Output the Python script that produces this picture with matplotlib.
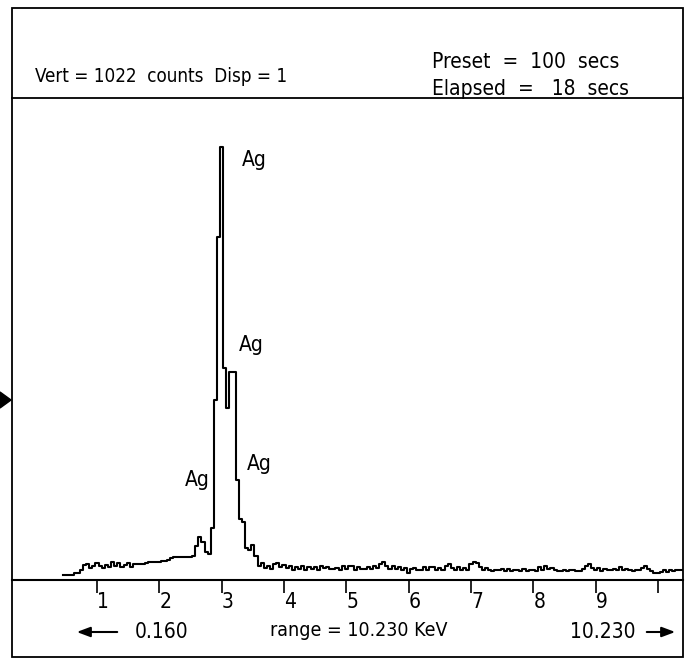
import numpy as np
import matplotlib
matplotlib.use("Agg")
import matplotlib.pyplot as plt
from matplotlib.patches import Rectangle, Polygon

plt.rcParams['font.family'] = ['DejaVu Sans']
plt.rcParams['font.stretch'] = 'condensed'

# spectrum: channel centres in keV (0.05 keV per channel) and counts
e_start = 0.45
e_step = 0.05
counts = [
    11, 11, 11, 11, 15, 15, 21, 32, 34, 26, 30, 36, 30, 26, 32, 28, 38, 30, 36, 28,
    32, 36, 28, 34, 34, 34, 34, 36, 38, 38, 38, 38, 40, 40, 43, 47, 49, 49, 49, 49,
    49, 49, 51, 72, 92, 81, 60, 55, 111, 383, 731, 922, 452, 366, 443, 443, 213, 130, 124, 68,
    64, 75, 51, 30, 36, 26, 30, 23, 34, 36, 28, 32, 26, 30, 21, 28, 23, 30, 21, 28,
    23, 28, 21, 30, 26, 28, 23, 23, 26, 21, 30, 23, 30, 30, 21, 28, 23, 23, 28, 23,
    30, 26, 34, 38, 30, 23, 30, 23, 28, 21, 26, 15, 23, 26, 21, 21, 28, 21, 28, 28,
    21, 26, 21, 30, 34, 26, 21, 28, 21, 26, 21, 34, 38, 36, 28, 21, 26, 21, 19, 21,
    21, 23, 19, 23, 19, 21, 21, 19, 23, 19, 21, 21, 19, 28, 21, 30, 23, 26, 21, 19,
    19, 21, 19, 21, 21, 19, 19, 23, 30, 34, 26, 21, 26, 19, 23, 21, 21, 23, 21, 28,
    21, 23, 21, 19, 21, 21, 26, 30, 23, 19, 15, 15, 17, 21, 17, 21, 19, 21, 21, 21,
]
energy = e_start + e_step * np.arange(len(counts))

tick_keV = [1, 2, 3, 4, 5, 6, 7, 8, 9, 10]
tick_labels = ['1', '2', '3', '4', '5', '6', '7', '8', '9', '']

# peak labels (keV, counts)
peak_names = ['Ag', 'Ag', 'Ag', 'Ag']
peak_x = [3.32, 3.27, 3.41, 2.41]
peak_y = [895, 500, 247, 213]

vert_counts = 1022
W, H = 691, 664
fig = plt.figure(figsize=(W / 100, H / 100), dpi=100, facecolor='white')

# overlay in pixel units for the frame and the readout text
fr = fig.add_axes([0, 0, 1, 1])
fr.set_xlim(0, W)
fr.set_ylim(H, 0)
fr.axis('off')
fr.add_patch(Rectangle((12, 8), 671, 649, fill=False, lw=1.3, ec='black'))
fr.plot([12, 683], [98, 98], color='black', lw=1.3)
fr.add_patch(Polygon([[0, 392], [11, 400], [0, 408]], closed=True, color='black'))

fs = 14
fr.text(35, 76, 'Vert = %d  counts  Disp = 1' % vert_counts, fontsize=13.5, va='center')
fr.text(432, 62, 'Preset  =  100  secs', fontsize=15, va='center')
fr.text(432, 89, 'Elapsed  =   18  secs', fontsize=15, va='center')
fr.text(135, 632, '0.160', fontsize=15, va='center')
fr.text(270, 630, 'range = 10.230 KeV', fontsize=fs, va='center')
fr.text(570, 632, '10.230', fontsize=15, va='center')
fr.annotate('', xy=(74, 632), xytext=(120, 632),
            arrowprops=dict(arrowstyle='-|>,head_length=0.8,head_width=0.3', lw=1.5, color='black'))
fr.annotate('', xy=(678, 632), xytext=(644, 632),
            arrowprops=dict(arrowstyle='-|>,head_length=0.8,head_width=0.3', lw=1.5, color='black'))

# spectrum axes
x0_px, px_per_keV = 34.7, 62.33
ax = fig.add_axes([12 / W, (H - 580) / H, 671 / W, (580 - 98) / H])
ax.patch.set_alpha(0)
ax.set_xlim((12 - x0_px) / px_per_keV, (683 - x0_px) / px_per_keV)
ax.set_ylim(0, 482 * 2.13)
ax.step(energy, counts, where='mid', color='black', lw=1.5)

for name, x, y in zip(peak_names, peak_x, peak_y):
    ax.text(x, y, name, fontsize=15, va='center', ha='left')

for s in ['top', 'left', 'right']:
    ax.spines[s].set_visible(False)
ax.spines['bottom'].set_linewidth(1.5)
ax.set_yticks([])
ax.set_xticks(tick_keV)
ax.set_xticklabels(tick_labels)
ax.tick_params(axis='x', direction='out', length=9.5, width=1.2, pad=-1, labelsize=15)
for lbl in ax.get_xticklabels():
    lbl.set_horizontalalignment('left')

fig.savefig('out.png', dpi=100, facecolor='white')
